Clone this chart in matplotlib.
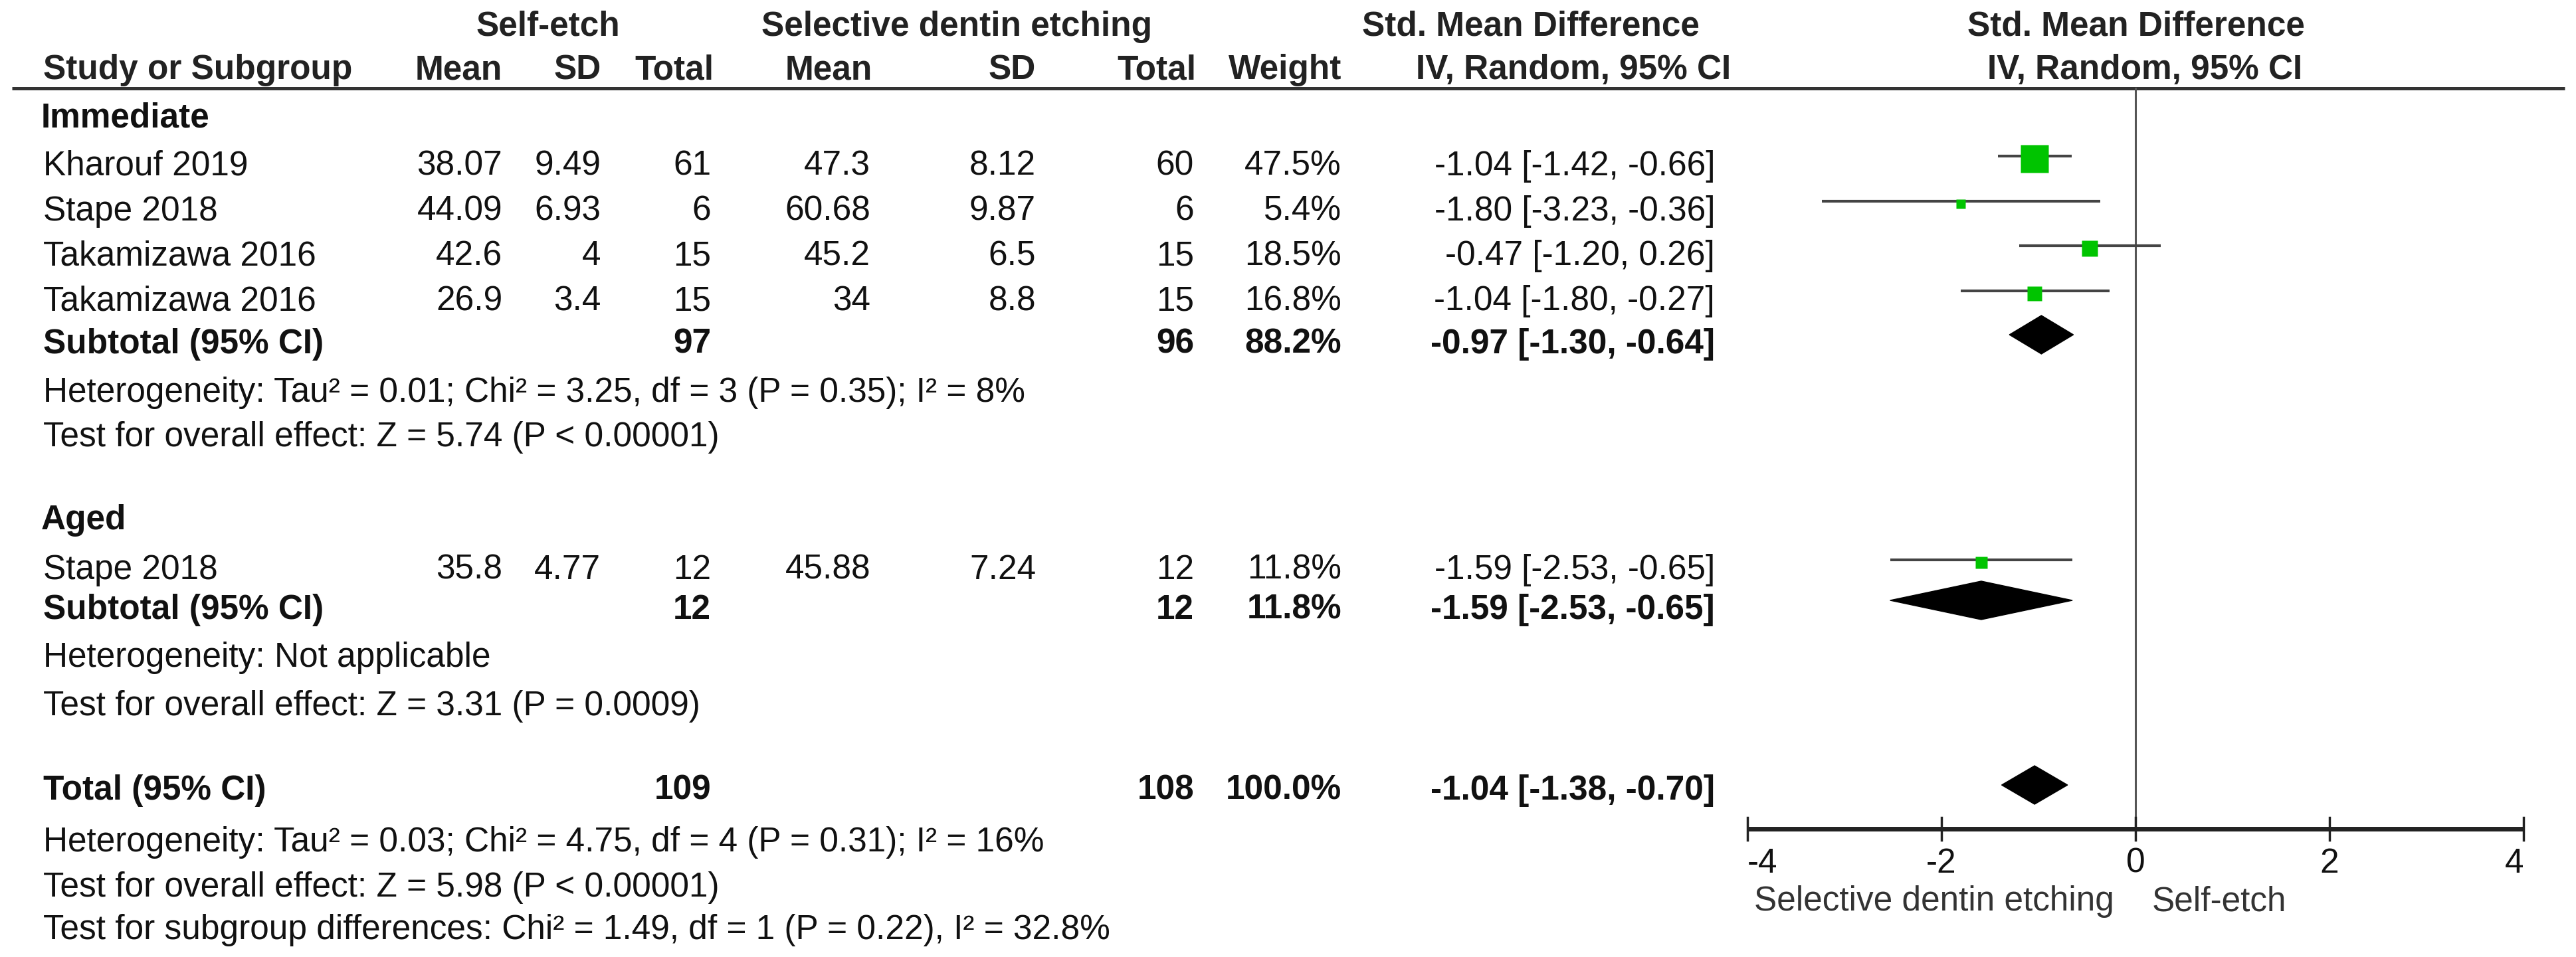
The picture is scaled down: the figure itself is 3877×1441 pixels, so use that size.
import matplotlib
matplotlib.use("Agg")
import matplotlib.pyplot as plt
from matplotlib.patches import Polygon

# ---------------- data ----------------
groups = ["Immediate", "Aged"]
study_names = [["Kharouf 2019", "Stape 2018", "Takamizawa 2016", "Takamizawa 2016"],
               ["Stape 2018"]]
se_mean = [[38.07, 44.09, 42.6, 26.9], [35.8]]
se_sd = [[9.49, 6.93, 4, 3.4], [4.77]]
se_n = [[61, 6, 15, 15], [12]]
sde_mean = [[47.3, 60.68, 45.2, 34], [45.88]]
sde_sd = [[8.12, 9.87, 6.5, 8.8], [7.24]]
sde_n = [[60, 6, 15, 15], [12]]
weights = [[47.5, 5.4, 18.5, 16.8], [11.8]]
smd = [[-1.04, -1.80, -0.47, -1.04], [-1.59]]
ci_lo = [[-1.42, -3.23, -1.20, -1.80], [-2.53]]
ci_hi = [[-0.66, -0.36, 0.26, -0.27], [-0.65]]

sub_se_n = [97, 12]
sub_sde_n = [96, 12]
sub_weight = [88.2, 11.8]
sub_smd = [-0.97, -1.59]
sub_lo = [-1.30, -2.53]
sub_hi = [-0.64, -0.65]
sub_het = ["Heterogeneity: Tau² = 0.01; Chi² = 3.25, df = 3 (P = 0.35); I² = 8%",
           "Heterogeneity: Not applicable"]
sub_test = ["Test for overall effect: Z = 5.74 (P < 0.00001)",
            "Test for overall effect: Z = 3.31 (P = 0.0009)"]

tot_se_n = 109
tot_sde_n = 108
tot_weight = 100.0
tot_smd = -1.04
tot_lo = -1.38
tot_hi = -0.70
tot_notes = ["Heterogeneity: Tau² = 0.03; Chi² = 4.75, df = 4 (P = 0.31); I² = 16%",
             "Test for overall effect: Z = 5.98 (P < 0.00001)",
             "Test for subgroup differences: Chi² = 1.49, df = 1 (P = 0.22), I² = 32.8%"]

xticks = [-4, -2, 0, 2, 4]
favours_left = "Selective dentin etching"
favours_right = "Self-etch"

# ---------------- layout (pixels) ----------------
W, H = 3877, 1441
DPI = 100
FS = 37
FONT = "Liberation Sans"
fig = plt.figure(figsize=(W / DPI, H / DPI), dpi=DPI)
ax = fig.add_axes([0, 0, 1, 1])
ax.set_xlim(0, W)
ax.set_ylim(H, 0)
ax.axis("off")

FX0, FX1 = 2630, 3798  # pixel x of -4 and 4
fax = fig.add_axes([FX0 / W, 0, (FX1 - FX0) / W, 1])
fax.set_xlim(-4, 4)
fax.set_ylim(H, 0)
fax.axis("off")

BASE = 17
TXT = "#111111"
HDR = "#222222"


def t(x, y, s, ha="left", bold=False, color=TXT, fs=FS):
    ax.text(x, y + BASE, s, ha=ha, va="baseline", fontsize=fs,
            fontweight="bold" if bold else "normal", family=FONT, color=color)


# column right edges
C_NAME = 65
C_SEM, C_SESD, C_SEN = 756, 904, 1070
C_SDM, C_SDSD, C_SDN = 1310, 1559, 1797
C_W, C_CI = 2019, 2581

# headers
t(825, 37, "Self-etch", ha="center", bold=True, color=HDR)
t(1440, 37, "Selective dentin etching", ha="center", bold=True, color=HDR)
t(2304, 37, "Std. Mean Difference", ha="center", bold=True, color=HDR)
t(3215, 37, "Std. Mean Difference", ha="center", bold=True, color=HDR)
t(C_NAME, 102, "Study or Subgroup", bold=True, color=HDR)
t(C_SEM, 102, "Mean", ha="right", bold=True, color=HDR)
t(C_SESD + 1, 102, "SD", ha="right", bold=True, color=HDR)
t(C_SEN + 4, 102, "Total", ha="right", bold=True, color=HDR)
t(C_SDM + 3, 102, "Mean", ha="right", bold=True, color=HDR)
t(C_SDSD, 102, "SD", ha="right", bold=True, color=HDR)
t(C_SDN + 3, 102, "Total", ha="right", bold=True, color=HDR)
t(C_W, 102, "Weight", ha="right", bold=True, color=HDR)
t(2605, 102, "IV, Random, 95% CI", ha="right", bold=True, color=HDR)
t(3228, 102, "IV, Random, 95% CI", ha="center", bold=True, color=HDR)
ax.plot([18, 3860], [133, 133], color="#333333", lw=3.6, solid_capstyle="butt")

group_rows = [175, 780]
study_rows = [[247, 315, 382, 450], [855]]
sub_rows = [515, 915]
het_rows = [588, 987]
test_rows = [655, 1060]
TOTAL_ROW = 1187
note_rows = [1265, 1333, 1397]
MARK_OFF = -8
GREEN = "#00c400"


def ci_str(e, lo, hi):
    return f"{e:.2f} [{lo:.2f}, {hi:.2f}]"


for g in range(len(groups)):
    t(C_NAME - 3, group_rows[g], groups[g], bold=True)
    for i, name in enumerate(study_names[g]):
        y = study_rows[g][i]
        t(C_NAME, y, name)
        t(C_SEM, y, f"{se_mean[g][i]:g}", ha="right")
        t(C_SESD, y, f"{se_sd[g][i]:g}", ha="right")
        t(C_SEN, y, f"{se_n[g][i]}", ha="right")
        t(C_SDM, y, f"{sde_mean[g][i]:g}", ha="right")
        t(C_SDSD, y, f"{sde_sd[g][i]:g}", ha="right")
        t(C_SDN, y, f"{sde_n[g][i]}", ha="right")
        t(C_W, y, f"{weights[g][i]:.1f}%", ha="right")
        t(C_CI, y, ci_str(smd[g][i], ci_lo[g][i], ci_hi[g][i]), ha="right")
        ym = y + MARK_OFF
        fax.plot([ci_lo[g][i], ci_hi[g][i]], [ym - 4, ym - 4], color="#444444",
                 lw=3.0, solid_capstyle="butt", zorder=3)
        side_px = 11 + 0.66 * weights[g][i]
        fax.plot([smd[g][i]], [ym], marker="s", ms=side_px * 0.72,
                 mfc=GREEN, mec="none", ls="none", zorder=4)
    ys = sub_rows[g]
    t(C_NAME, ys, "Subtotal (95% CI)", bold=True)
    t(C_SEN, ys, f"{sub_se_n[g]}", ha="right", bold=True)
    t(C_SDN, ys, f"{sub_sde_n[g]}", ha="right", bold=True)
    t(C_W, ys, f"{sub_weight[g]:.1f}%", ha="right", bold=True)
    t(C_CI, ys, ci_str(sub_smd[g], sub_lo[g], sub_hi[g]), ha="right", bold=True)
    yd = ys + MARK_OFF - 3
    fax.add_patch(Polygon([(sub_lo[g], yd), (sub_smd[g], yd - 29),
                           (sub_hi[g], yd), (sub_smd[g], yd + 29)],
                          closed=True, color="black", zorder=4))
    t(C_NAME, het_rows[g], sub_het[g])
    t(C_NAME, test_rows[g], sub_test[g])

# total
t(C_NAME, TOTAL_ROW, "Total (95% CI)", bold=True)
t(C_SEN, TOTAL_ROW, f"{tot_se_n}", ha="right", bold=True)
t(C_SDN, TOTAL_ROW, f"{tot_sde_n}", ha="right", bold=True)
t(C_W, TOTAL_ROW, f"{tot_weight:.1f}%", ha="right", bold=True)
t(C_CI, TOTAL_ROW, ci_str(tot_smd, tot_lo, tot_hi), ha="right", bold=True)
yd = TOTAL_ROW - 5
fax.add_patch(Polygon([(tot_lo, yd), (tot_smd, yd - 29),
                       (tot_hi, yd), (tot_smd, yd + 29)],
                      closed=True, color="black", zorder=4))
for y, s in zip(note_rows, tot_notes):
    t(C_NAME, y, s)

# forest axis
AX_Y = 1248
fax.plot([0, 0], [133, AX_Y], color="#555555", lw=2.2, zorder=2, clip_on=False)
fax.plot([xticks[0], xticks[-1]], [AX_Y, AX_Y], color="#222222", lw=5,
         solid_capstyle="butt", zorder=3, clip_on=False)
for k, xv in enumerate(xticks):
    fax.plot([xv, xv], [AX_Y - 17, AX_Y + 17], color="#222222", lw=2.5,
             zorder=3, clip_on=False)
    ha = "left" if k == 0 else ("right" if k == len(xticks) - 1 else "center")
    fax.text(xv, 1297 + BASE, f"{xv}", ha=ha, va="baseline", fontsize=FS,
             family=FONT, color=TXT, clip_on=False)
fax.text(-0.22, 1354 + BASE, favours_left, ha="right", va="baseline", fontsize=FS,
         family=FONT, color="#333333", clip_on=False)
fax.text(0.17, 1354 + BASE, favours_right, ha="left", va="baseline", fontsize=FS,
         family=FONT, color="#333333", clip_on=False)

fig.savefig("out.png", dpi=DPI, facecolor="white")
